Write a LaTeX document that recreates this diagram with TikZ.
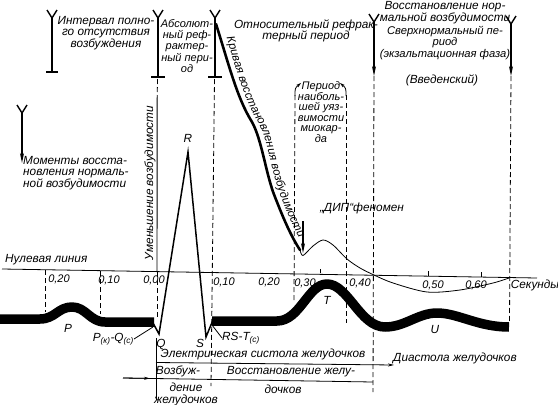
\documentclass[tikz,border=0pt]{standalone}
\usepackage{fontspec}
\setmainfont{Liberation Sans}
\usetikzlibrary{arrows.meta,decorations.text}
\begin{document}
\begin{tikzpicture}[x=1pt,y=-1pt,
  lbl/.style={font=\fontsize{11.8}{11.6}\selectfont\itshape, inner sep=0pt, align=center},
  sm/.style={font=\fontsize{11}{10.6}\selectfont\itshape, inner sep=0pt, align=center},
  ecg/.style={line width=9.5pt, line cap=butt, line join=round},
  thinl/.style={line width=0.8pt},
  dsh/.style={dash pattern=on 5pt off 3pt, line width=0.8pt},
  vmark/.style={line width=1.4pt},
  barw/.style={line width=2.2pt},
  darr/.style={-{Stealth[length=10pt,width=4pt]}, line width=1.3pt},
  sarr/.style={-{Stealth[length=6pt,width=3pt]}, line width=0.8pt}]
\useasboundingbox (0,0) rectangle (558,405);

% ---------- zero line and time scale ----------
\coordinate (z0) at (2,269);
\coordinate (z1) at (537,278);
\draw[thinl] (z0) -- (z1);
\node[lbl, anchor=base west] (zl) at (5,262) {Нулевая линия};
\node[sm] (t1) at (59,279) {0,20};
\node[sm] (t2) at (109,280) {0,10};
\node[sm] (t3) at (154,280.5) {0,00};
\node[sm] (t4) at (224,282) {0,10};
\node[sm] (t5) at (269,282.5) {0,20};
\node[sm] (t6) at (305,283) {0,30};
\node[sm] (t7) at (360,283.5) {0,40};
\node[sm] (t8) at (433,285) {0,50};
\node[sm] (t9) at (476,285.5) {0,60};
\node[lbl] (sec) at (535,285.5) {Секунды};
\draw[thinl] (320,273.4) -- (320,268.5);
\draw[thinl] (428,276.2) -- (428,271);
\draw[thinl] (481,277.1) -- (481,272);

% ---------- vertical markers ----------
\coordinate (m1) at (52,18);
\coordinate (m1b) at (52,72);
\draw[vmark] (47,10) -- (m1) -- (57,10);
\draw[vmark] (m1) -- (m1b);
\draw[barw] (46,72) -- (58,72);
\coordinate (m2) at (158,18);
\coordinate (m2b) at (158,77);
\draw[vmark] (153,10) -- (m2) -- (163,10);
\draw[vmark] (m2) -- (m2b);
\draw[barw] (151,77) -- (165,77);
\draw[dsh] (157.5,79) -- (157.2,97);
\draw[line width=0.9pt] (157.2,97) -- (157,271.6);
\draw[dsh] (157,272) -- (157,318);
\draw[line width=0.9pt] (156,338) -- (156,400);
\coordinate (m3) at (215,18);
\coordinate (m3b) at (215,77);
\draw[vmark] (210,10) -- (m3) -- (220,10);
\draw[vmark] (m3) -- (m3b);
\draw[barw] (208,77) -- (222,77);
\draw[dsh] (214.5,79) -- (211,386);
\coordinate (m4) at (374,22);
\coordinate (m4b) at (374,76);
\draw[vmark] (369,14) -- (m4) -- (379,14);
\draw[darr] (m4) -- (m4b);
\draw[dsh] (m4b) -- (373,392);
\coordinate (m5) at (511,24);
\coordinate (m5b) at (511,76);
\draw[vmark] (506,16) -- (m5) -- (516,16);
\draw[darr] (m5) -- (m5b);
\draw[dsh] (m5b) -- (509.5,323);
\coordinate (m6) at (22,113);
\coordinate (m6b) at (22,163);
\draw[vmark] (17,105) -- (m6) -- (27,105);
\draw[darr] (m6) -- (m6b);

\draw[dsh] (45,270) -- (45,312);
\draw[dsh] (100,271) -- (100,314);

\draw[dsh] (295,95) -- (294,300);
\draw[dsh] (346,95) -- (346,323);
\draw[line width=0.8pt, -{Stealth[length=5pt,width=3pt]}] (295,96) .. controls (295,88) .. (301,83);
\draw[line width=0.8pt, -{Stealth[length=5pt,width=3pt]}] (346,96) .. controls (346,88) .. (340,83);

% ---------- top texts ----------
\node[lbl] (intv) at (106,33) {Интервал полно-\\го отсутствия\\возбуждения};
\node[lbl, font=\fontsize{11}{11.3}\selectfont\itshape] (abs) at (187,46) {Абсолют-\\ный реф-\\рактер-\\ный пери-\\од};
\node[lbl] (rel) at (306,31) {Относительный рефрак-\\терный период};
\node[lbl, font=\fontsize{11.8}{10.5}\selectfont\itshape] (norm) at (445,12.5) {Восстановление нор-\\мальной возбудимости};
\node[lbl, font=\fontsize{11.2}{11.5}\selectfont\itshape] (super) at (445,43) {Сверхнормальный пе-\\риод\\(экзальтационная фаза)};
\node[lbl] (ved) at (442,80) {(Введенский)};
\node[lbl, align=left, anchor=west] (mom) at (23,173) {Моменты восста-\\новления нормаль-\\ной возбудимости};
\node[lbl, rotate=90] (umen) at (150,183) {Уменьшение возбудимости};
\node[sm] (vuln) at (321,112) {Период\\наиболь-\\шей уяз-\\вимости\\миокар-\\да};
\node[lbl] (dip) at (362,208) {„ДИП“феномен};

% ---------- excitability recovery curve ----------
\draw[line width=2.6pt, line cap=round] (216,24) .. controls (229,65) and (237,98) .. (252,122)
  .. controls (262,140) and (266,175) .. (275,197) .. controls (284,220) and (291,236) .. (300,250);
\path[postaction={decorate}, decoration={text along path, text align=center,
  text={|\fontsize{11.5}{12}\selectfont\itshape|Кривая восстановления возбудимости}}]
  (222,22) .. controls (235,65) and (243,98) .. (258,122)
  .. controls (268,140) and (272,175) .. (281,197) .. controls (290,220) and (297,236) .. (307,252);
\draw[thinl] plot[smooth, tension=0.5] coordinates {(300,250) (303,255.5) (313,246) (323,240) (333,245) (347,259) (360,268) (374,275) (393,283) (427,292) (460,290) (493,283) (509,278)};
\coordinate (dippt) at (303,253);
\draw[darr] (303,221) -- (dippt);

% ---------- ECG ----------
\draw[ecg] (0,319) -- (40,319) .. controls (55,319) and (58,307) .. (72,307)
  .. controls (86,307) and (90,322) .. (105,322) -- (154,322);
\coordinate (Qp) at (159,334);
\coordinate (Rp) at (188,152);
\coordinate (Sp) at (206,337);
\draw[line width=1.5pt, line join=miter] (153,323) -- (Qp) -- (Rp) -- (Sp) -- (213,320);
\draw[ecg] (212,321) -- (277,321) .. controls (300,321) and (308,284) .. (327,284)
  .. controls (348,284) and (360,327) .. (385,327) .. controls (405,327) and (418,313) .. (437,313)
  .. controls (458,313) and (478,327) .. (509,327);
\node[lbl] (Rl) at (188,138) {R};
\node[lbl] (Pl) at (68,328) {P};
\node[lbl] (Tl) at (327,300) {T};
\node[lbl] (Ul) at (435,329) {U};
\node[lbl] (Ql) at (161,344) {Q};
\node[lbl] (Sl) at (200,343.5) {S};
\node[lbl, anchor=east] (pq) at (134,339) {P\textsubscript{(к)}-Q\textsubscript{(с)}};
\draw[thinl] (pq.east) -- (153,327);
\node[lbl, anchor=west] (rst) at (222,338) {RS-T\textsubscript{(с)}};
\draw[thinl] (rst.west) -- (212,325);

% ---------- bottom phases ----------
\node[lbl] (sys) at (263,354) {Электрическая систола желудочков};
\draw[sarr] (156,362.5) -- (394,365);
\node[lbl, anchor=west] (diast) at (393,358) {Диастола желудочков};
\node[lbl] (vozb1) at (178,371) {Возбуж-};
\node[lbl, font=\fontsize{11.8}{12}\selectfont\itshape] (vozb2) at (186,394) {дение\\желудочков};
\node[lbl] (vost1) at (291,372) {Восстановление желу-};
\node[lbl] (vost2) at (283,389) {дочков};
\draw[thinl] (123,378) -- (373,382);
\draw[sarr] (123,378) -- (150,378.4);
\end{tikzpicture}
\end{document}
